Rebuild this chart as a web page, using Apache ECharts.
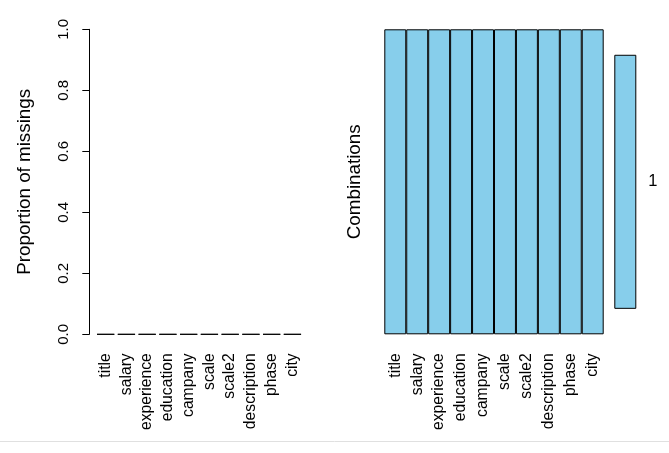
<!DOCTYPE html>
<html>
<head>
<meta charset="utf-8">
<style>
html,body{margin:0;padding:0;background:#fff;}
#c{width:669px;height:453px;}
</style>
<script src="https://cdn.jsdelivr.net/npm/echarts@6/dist/echarts.min.js"></script>
</head>
<body>
<div id="c"></div>
<script>
var variables = ['title','salary','experience','education','campany','scale','scale2','description','phase','city'];
var missingProportion = [0,0,0,0,0,0,0,0,0,0];
// combination pattern: 0 = observed, 1 = missing
var combinationPattern = [0,0,0,0,0,0,0,0,0,0];
var combinationLabels = ['1'];
var combinationFreq = [1];

var FONT = 'Liberation Sans, Arial, sans-serif';
var SKY = '#87CEEB';

var chart = echarts.init(document.getElementById('c'), null, {renderer:'canvas'});

var option = {
  backgroundColor: '#fff',
  animation: false,
  textStyle: {fontFamily: FONT},
  grid: [
    {left: 95.3, top: 29.3, width: 207.5, height: 305},
    {left: 384.3, top: 29.3, width: 219.4, height: 305},
    {left: 614.3, top: 29.3, width: 22, height: 305}
  ],
  xAxis: [
    {gridIndex:0, type:'category', data: variables, boundaryGap:true,
     axisLine:{show:false}, axisTick:{show:false}, splitLine:{show:false},
     axisLabel:{rotate:90, interval:0, fontSize:15.7, color:'#000', margin:19, fontFamily:FONT}},
    {gridIndex:1, type:'category', data: variables, boundaryGap:true,
     axisLine:{show:false}, axisTick:{show:false}, splitLine:{show:false},
     axisLabel:{rotate:90, interval:0, fontSize:15.7, color:'#000', margin:19, fontFamily:FONT}},
    {gridIndex:2, type:'value', min:0, max:1, show:false}
  ],
  yAxis: [
    {gridIndex:0, type:'value', min:0, max:1, interval:0.2, offset:6,
     name:'Proportion of missings', nameLocation:'middle', nameRotate:90, nameGap:55,
     nameTextStyle:{fontSize:18.8, color:'#000', fontFamily:FONT},
     axisLine:{show:true, lineStyle:{color:'#000', width:1}},
     axisTick:{show:true, length:7, lineStyle:{color:'#000'}},
     splitLine:{show:false},
     axisLabel:{rotate:90, fontSize:15, color:'#000', margin:18, fontFamily:FONT,
       formatter:function(v){return v.toFixed(1);}}},
    {gridIndex:1, type:'value', min:0, max:1,
     name:'Combinations', nameLocation:'middle', nameRotate:90, nameGap:20,
     nameTextStyle:{fontSize:18.8, color:'#000', fontFamily:FONT},
     axisLine:{show:false}, axisTick:{show:false}, axisLabel:{show:false}, splitLine:{show:false}},
    {gridIndex:2, type:'category', data: combinationLabels, position:'right',
     axisLine:{show:false}, axisTick:{show:false}, splitLine:{show:false},
     axisLabel:{fontSize:16.5, color:'#000', margin:12, fontFamily:FONT}}
  ],
  series: [
    {
      type:'custom', xAxisIndex:0, yAxisIndex:0,
      data: missingProportion.map(function(v,i){return [i,v];}),
      renderItem: function(params, api){
        var base = api.coord([api.value(0), 0]);
        var top = api.coord([api.value(0), api.value(1)]);
        var w = api.size([1,0])[0] / 1.2;
        return {
          type:'rect',
          shape:{x: base[0]-w/2, y: top[1], width: w, height: base[1]-top[1]},
          style:{fill: SKY, stroke:'#000', lineWidth:1}
        };
      }
    },
    {
      type:'bar', xAxisIndex:1, yAxisIndex:1, barCategoryGap:'0%',
      data: combinationPattern.map(function(v){
        return {value:1, itemStyle:{color: v ? '#FF0000' : SKY}};
      }),
      itemStyle:{borderColor:'#000', borderWidth:1}
    },
    {
      type:'bar', xAxisIndex:2, yAxisIndex:2, barWidth:'83.3%',
      data: combinationFreq,
      itemStyle:{color: SKY, borderColor:'#000', borderWidth:1}
    }
  ],
  graphic: [
    {type:'line', shape:{x1:0, y1:441.5, x2:669, y2:441.5}, style:{stroke:'#e0e0e0', lineWidth:1}, silent:true}
  ]
};
chart.setOption(option);
</script>
</body>
</html>
